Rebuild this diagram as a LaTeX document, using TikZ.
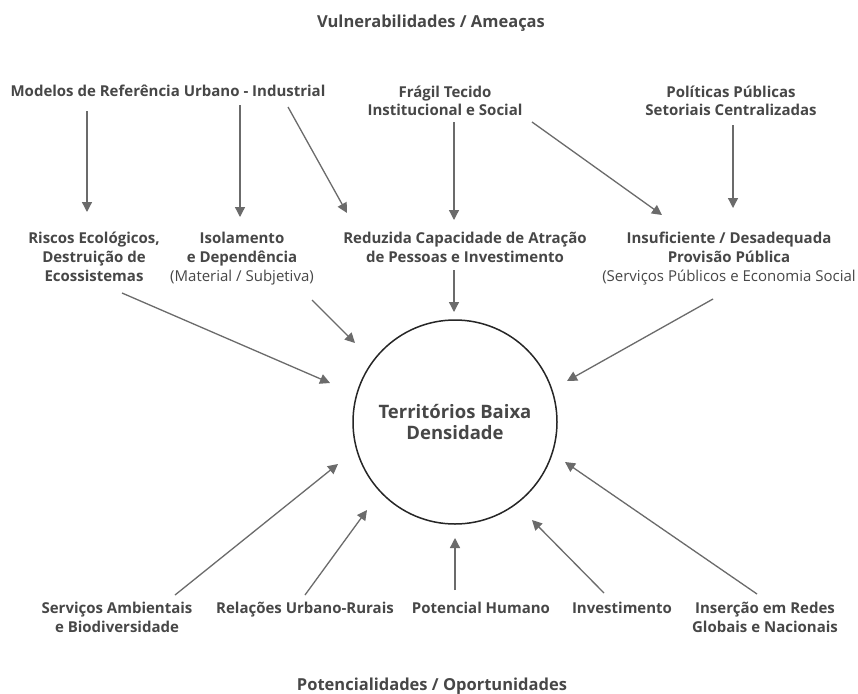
\documentclass[tikz,border=0pt]{standalone}
\usepackage{fontspec}
\setmainfont{Open Sans}
\usetikzlibrary{arrows.meta}
\definecolor{txtgray}{HTML}{474747}
\definecolor{arrgray}{HTML}{6B6B6B}
\tikzset{
  lbl/.style={font=\bfseries\fontsize{15}{19}\selectfont, text=txtgray, align=center, inner sep=0pt, anchor=base},
  ttl/.style={lbl, font=\bfseries\fontsize{16.5}{19}\selectfont},
  arr/.style={draw=arrgray, line width=1.3pt, -{Triangle[length=10pt,width=10pt]}},
}
\begin{document}
\begin{tikzpicture}[x=1pt,y=-1pt]
  \useasboundingbox[fill=white] (0,0) rectangle (858,693);
  % titulos
  \node[ttl] (vuln) at (431,28) {Vulnerabilidades / Ameaças};
  \node[ttl] (potenc) at (432,690) {Potencialidades / Oportunidades};
  % ameacas (base = ultima linha)
  \node[lbl] (modelos) at (168,96) {Modelos de Referência Urbano - Industrial};
  \node[lbl, font=\bfseries\fontsize{15}{18}\selectfont] (fragil) at (445,115) {Frágil Tecido\\Institucional e Social};
  \node[lbl, font=\bfseries\fontsize{15}{18}\selectfont] (politicas) at (731,115) {Políticas Públicas\\Setoriais Centralizadas};
  \node[lbl] (riscos) at (94,281) {Riscos Ecológicos,\\Destruição de\\Ecossistemas};
  \node[lbl] (isolamento) at (242,281) {Isolamento\\e Dependência\\{\mdseries(Material / Subjetiva)}};
  \node[lbl] (reduzida) at (465,262) {Reduzida Capacidade de Atração\\de Pessoas e Investimento};
  \node[lbl] (insuf) at (729,281) {Insuficiente / Desadequada\\Provisão Pública\\{\mdseries(Serviços Públicos e Economia Social}};
  % centro
  \node[circle, draw=black!85, line width=1.5pt, minimum size=204pt, inner sep=0pt,
        font=\bfseries\fontsize{18.5}{21}\selectfont, text=txtgray, align=center] (terr) at (455,422)
        {Territórios Baixa\\Densidade};
  % oportunidades
  \node[lbl] (servicos) at (117,632) {Serviços Ambientais\\e Biodiversidade};
  \node[lbl] (relacoes) at (305,613) {Relações Urbano-Rurais};
  \node[lbl] (potencial) at (481,613) {Potencial Humano};
  \node[lbl] (invest) at (622,613) {Investimento};
  \node[lbl] (insercao) at (765,632) {Inserção em Redes\\Globais e Nacionais};
  % pontas das setas
  \path
  (87,111) coordinate (modelos-a) (87,212) coordinate (riscos-in)
  (240,105) coordinate (modelos-b) (240,217) coordinate (isolamento-in)
  (288,107) coordinate (modelos-c) (347,213) coordinate (reduzida-in1)
  (454,122) coordinate (fragil-a) (454,220) coordinate (reduzida-in2)
  (532,122) coordinate (fragil-b) (662,215) coordinate (insuf-in1)
  (733,125) coordinate (politicas-a) (733,208) coordinate (insuf-in2)
  (122,293) coordinate (riscos-out) (330,383) coordinate (terr-1)
  (312,300) coordinate (isolamento-out) (355,343) coordinate (terr-2)
  (454,270) coordinate (reduzida-out) (454,312) coordinate (terr-3)
  (713,299) coordinate (insuf-out) (567,381) coordinate (terr-4)
  (175,595) coordinate (servicos-out) (338,464) coordinate (terr-5)
  (305,595) coordinate (relacoes-out) (367,510) coordinate (terr-6)
  (455,590) coordinate (potencial-out) (455,538) coordinate (terr-7)
  (604,593) coordinate (invest-out) (532,520) coordinate (terr-8)
  (757,594) coordinate (insercao-out) (565,462) coordinate (terr-9)
  ;
  \foreach \a/\b in {modelos-a/riscos-in, modelos-b/isolamento-in, modelos-c/reduzida-in1,
    fragil-a/reduzida-in2, fragil-b/insuf-in1, politicas-a/insuf-in2,
    riscos-out/terr-1, isolamento-out/terr-2, reduzida-out/terr-3, insuf-out/terr-4,
    servicos-out/terr-5, relacoes-out/terr-6, potencial-out/terr-7, invest-out/terr-8, insercao-out/terr-9}
    \draw[arr] (\a) -- (\b);
\end{tikzpicture}
\end{document}
